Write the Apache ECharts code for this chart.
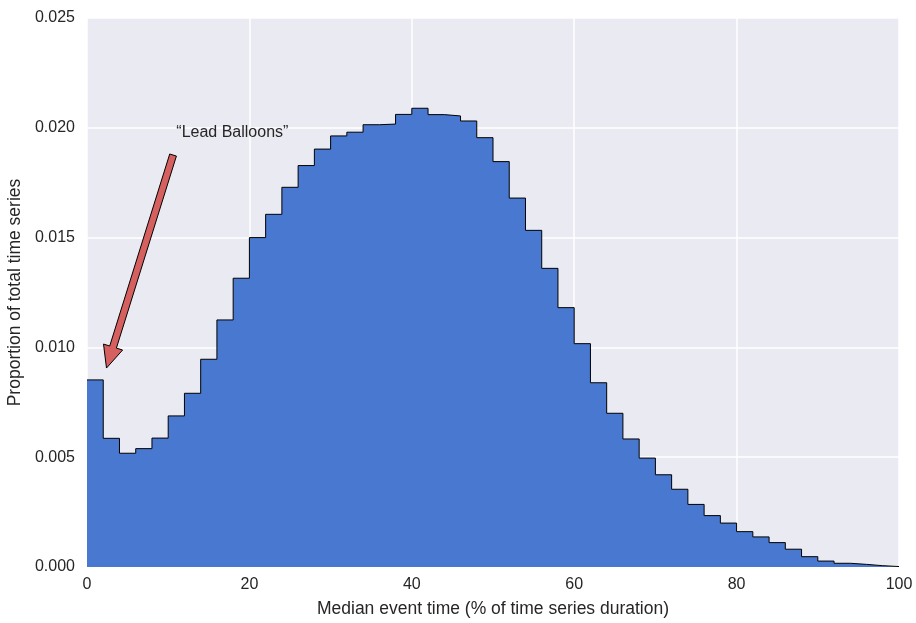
<!DOCTYPE html>
<html>
<head>
<meta charset="utf-8">
<script src="https://cdn.jsdelivr.net/npm/echarts@6/dist/echarts.min.js"></script>
<style>
  html, body { margin: 0; padding: 0; background: #fff; }
  #chart { width: 916px; height: 623px; }
</style>
</head>
<body>
<div id="chart"></div>
<script>
// left edge of each histogram bin (% of time series duration)
const binStarts = [0, 2, 4, 6, 8, 10, 12, 14, 16, 18, 20, 22, 24, 26, 28, 30, 32, 34, 36, 38,
  40, 42, 44, 46, 48, 50, 52, 54, 56, 58, 60, 62, 64, 66, 68, 70, 72, 74, 76, 78,
  80, 82, 84, 86, 88, 90, 92, 94, 96, 98];
const binEnd = 100;
// proportion of total time series in each bin
const proportions = [0.00852, 0.00586, 0.00518, 0.00539, 0.00587, 0.00688, 0.00791, 0.00946, 0.01125, 0.01315,
  0.01500, 0.01606, 0.01729, 0.01828, 0.01903, 0.01963, 0.01980, 0.02014, 0.02017, 0.02061,
  0.02089, 0.02060, 0.02054, 0.02031, 0.01955, 0.01846, 0.01680, 0.01533, 0.01360, 0.01181,
  0.01017, 0.00839, 0.00700, 0.00583, 0.00496, 0.00420, 0.00354, 0.00285, 0.00234, 0.00200,
  0.00161, 0.00137, 0.00111, 0.00081, 0.00047, 0.00027, 0.00017, 0.00012, 0.00006, 0.00002];
const yTicks = ['0.000', '0.005', '0.010', '0.015', '0.020', '0.025'];

// annotation anchors (data coordinates)
const noteText = '\u201CLead Balloons\u201D';
const noteAt = [11.0, 0.01976];
const arrowTail = [10.6, 0.01876];
const arrowTip = [2.4, 0.00906];

const stepData = binStarts.map((x, i) => [x, proportions[i]]);
stepData.push([binEnd, proportions[proportions.length - 1]]);

const font = 'Liberation Sans, Arial, sans-serif';
const textColor = '#262626';

const chart = echarts.init(document.getElementById('chart'));

chart.setOption({
  backgroundColor: '#ffffff',
  animation: false,
  grid: { left: 87, right: 17, top: 18, bottom: 56, show: true, backgroundColor: '#EAEAF2', borderWidth: 0,
    outerBoundsMode: 'none', containLabel: false },
  xAxis: {
    type: 'value', min: 0, max: 100, interval: 20,
    name: 'Median event time (% of time series duration)',
    nameLocation: 'middle', nameGap: 33,
    nameTextStyle: { fontFamily: font, fontSize: 17.5, color: textColor },
    axisLine: { show: false }, axisTick: { show: false },
    axisLabel: { fontFamily: font, fontSize: 16, color: textColor, margin: 10 },
    splitLine: { show: true, lineStyle: { color: '#ffffff', width: 1.5 } }
  },
  yAxis: {
    type: 'value', min: 0, max: 0.025, interval: 0.005,
    name: 'Proportion of total time series',
    nameLocation: 'middle', nameGap: 56,
    nameTextStyle: { fontFamily: font, fontSize: 17.5, color: textColor },
    axisLine: { show: false }, axisTick: { show: false },
    axisLabel: { fontFamily: font, fontSize: 16, color: textColor, margin: 12,
      formatter: (v) => yTicks[Math.round(v / 0.005)] },
    splitLine: { show: true, lineStyle: { color: '#ffffff', width: 1.5 } }
  },
  series: [{
    type: 'line',
    step: 'end',
    data: stepData,
    symbol: 'none',
    lineStyle: { color: '#000000', width: 1 },
    areaStyle: { color: '#4878CF', opacity: 1 },
    z: 3
  }]
});

function drawNote() {
  const tail = chart.convertToPixel({ gridIndex: 0 }, arrowTail);
  const tip = chart.convertToPixel({ gridIndex: 0 }, arrowTip);
  const txt = chart.convertToPixel({ gridIndex: 0 }, noteAt);
  const dx = tip[0] - tail[0], dy = tip[1] - tail[1];
  const len = Math.sqrt(dx * dx + dy * dy);
  const ux = dx / len, uy = dy / len;
  const nx = -uy, ny = ux;
  const shaftHalf = 3.5, headHalf = 10, headLen = 22;
  const bx = tip[0] - ux * headLen, by = tip[1] - uy * headLen;
  const pts = [
    [tail[0] + nx * shaftHalf, tail[1] + ny * shaftHalf],
    [bx + nx * shaftHalf, by + ny * shaftHalf],
    [bx + nx * headHalf, by + ny * headHalf],
    [tip[0], tip[1]],
    [bx - nx * headHalf, by - ny * headHalf],
    [bx - nx * shaftHalf, by - ny * shaftHalf],
    [tail[0] - nx * shaftHalf, tail[1] - ny * shaftHalf]
  ];
  chart.setOption({
    graphic: [
      { type: 'polygon', shape: { points: pts }, z: 10,
        style: { fill: '#D65F5F', stroke: '#000000', lineWidth: 1 } },
      { type: 'text', x: txt[0], y: txt[1], z: 10,
        style: { text: noteText, font: '16px ' + font, fill: textColor,
          textAlign: 'left', textVerticalAlign: 'middle' } }
    ]
  });
}
drawNote();
</script>
</body>
</html>
